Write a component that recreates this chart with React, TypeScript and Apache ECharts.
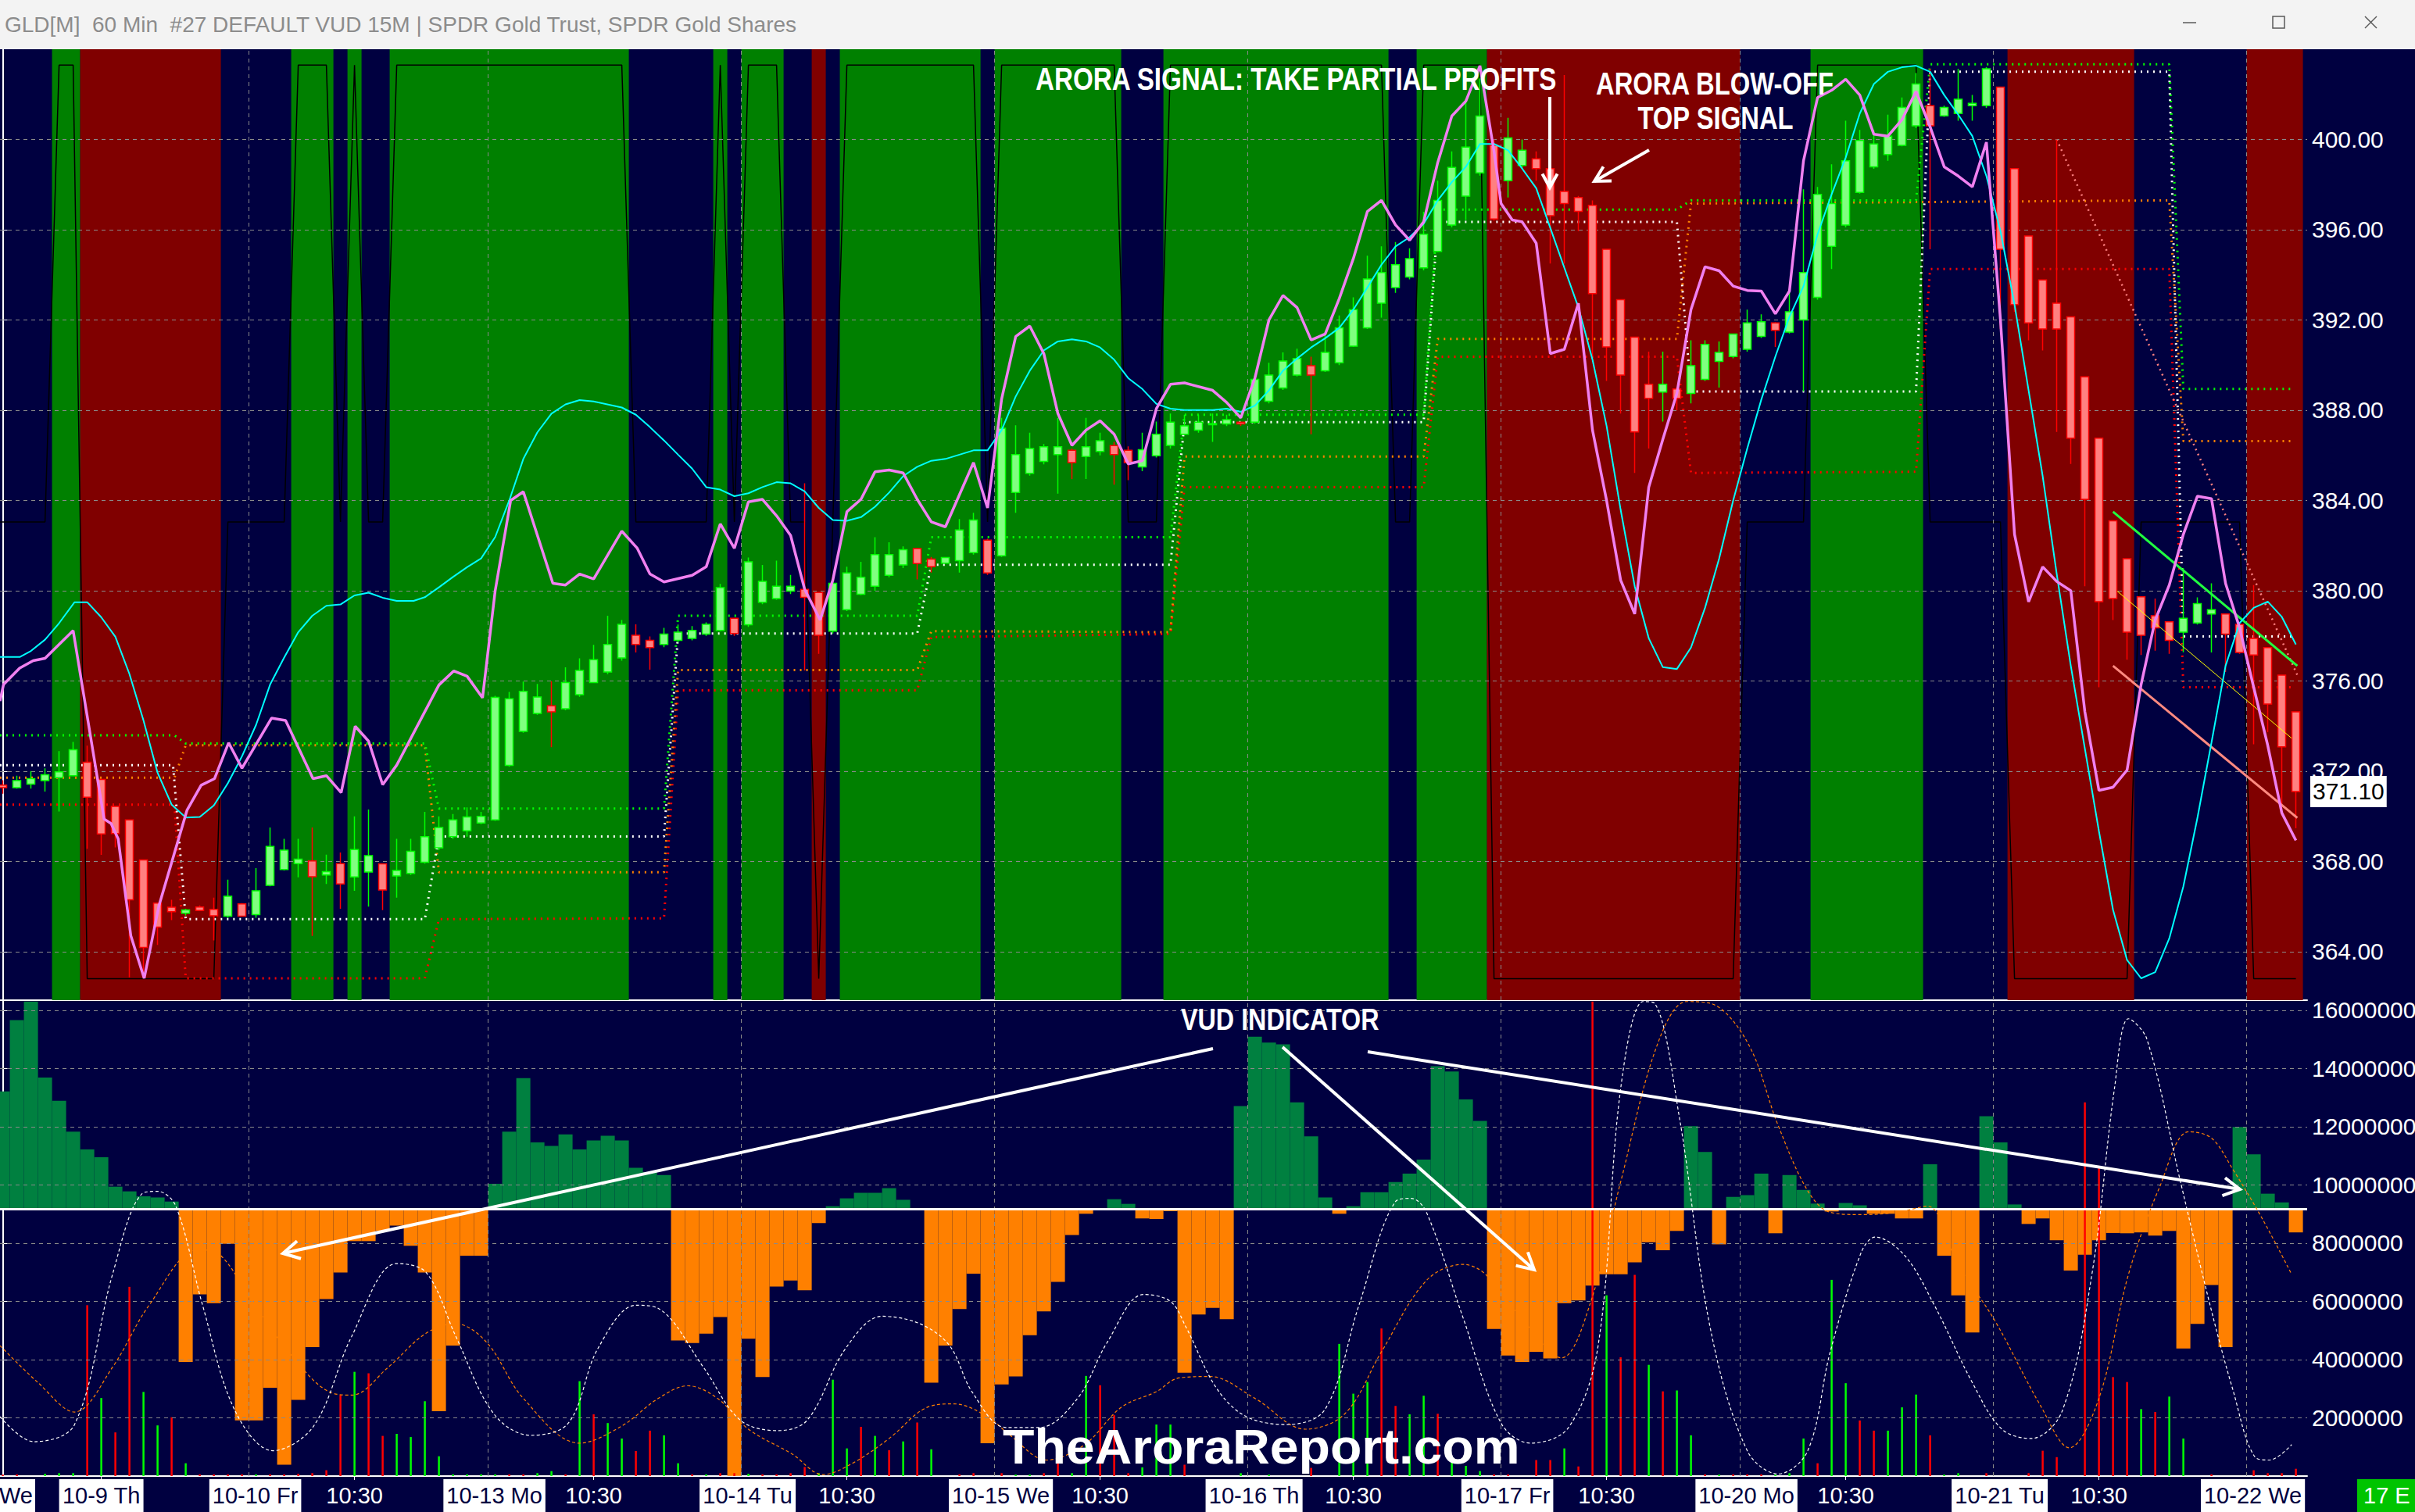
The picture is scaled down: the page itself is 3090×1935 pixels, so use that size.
import React, { useEffect, useRef } from 'react';
import * as echarts from 'echarts';

// ---------------- data ----------------
const titleText = 'GLD[M]  60 Min  #27 DEFAULT VUD 15M | SPDR Gold Trust, SPDR Gold Shares';
const priceTicks = [364, 368, 372, 376, 380, 384, 388, 392, 396, 400];
const vudTicks = [2, 4, 6, 8, 10, 12, 14, 16]; // millions
const dayBreaks = [17.5, 34.5, 52.5, 70.5, 88.5, 106.5, 123.5, 141.5, 159.5];
const firstDayLabel = 'We';
const dateLabels = ['10-9 Th', '10-10 Fr', '10-13 Mo', '10-14 Tu', '10-15 We', '10-16 Th', '10-17 Fr', '10-20 Mo', '10-21 Tu', '10-22 We'];
const dateLabelBars = [7, 17.5, 34.5, 52.5, 70.5, 88.5, 106.5, 123.5, 141.5, 159.5];
const timeLabel = '10:30';
const timeLabelBars = [25, 42, 60, 78, 96, 114, 131, 149];
const tickBars = [7, 25, 42, 60, 78, 96, 114, 131, 149];
const cornerLabel = '17 E';

// background regime bands: edges (bar units) and states n=navy g=green r=red
const bandEdges = [-0.2, 3.5, 5.5, 15.5, 20.5, 23.5, 24.5, 25.5, 27.5, 44.5, 50.5, 51.5, 52.5, 55.5, 57.5, 58.5, 59.5, 69.5, 70.5, 79.5, 82.5, 98.5, 100.5, 105.5, 123.5, 128.5, 136.5, 142.5, 151.5, 159.5, 163.5, 163.8];
const bandStates = ['n', 'g', 'r', 'n', 'g', 'n', 'g', 'n', 'g', 'n', 'g', 'n', 'g', 'n', 'r', 'n', 'g', 'n', 'g', 'n', 'g', 'n', 'g', 'r', 'n', 'g', 'n', 'r', 'n', 'r', 'n'];
const regimeLevel: Record<string, number> = { g: 403.3, n: 383.05, r: 362.8 };

// hourly candles: [open, close, low, high]
const ohlc: number[][] = [
  [371.38, 371.27, 371.0, 371.6], [371.27, 371.58, 371.23, 371.8], [371.43, 371.67, 371.23, 372.0], [371.58, 371.84, 371.1, 372.13], [371.71, 371.97, 370.21, 372.89],
  [371.8, 372.95, 371.78, 373.3], [372.4, 370.85, 368.56, 373.13], [371.63, 369.22, 368.29, 371.63], [370.44, 369.24, 368.62, 370.44], [369.84, 366.3, 362.86, 369.84],
  [368.07, 364.19, 363.0, 368.07], [366.15, 365.09, 364.3, 366.15], [365.97, 365.77, 365.4, 366.3], [365.7, 365.85, 365.6, 365.9], [365.98, 365.82, 365.8, 366.05],
  [365.88, 365.59, 364.5, 366.4], [365.57, 366.46, 365.5, 367.19], [366.12, 365.57, 365.55, 366.15], [365.64, 366.7, 365.5, 367.7], [366.94, 368.66, 366.9, 369.5],
  [367.64, 368.5, 367.6, 369.0], [367.9, 368.1, 367.3, 369.0], [368.02, 367.32, 364.7, 369.5], [367.4, 367.55, 367.0, 368.3], [367.9, 367.0, 365.9, 368.4],
  [367.31, 368.53, 366.7, 370.0], [367.53, 368.26, 366.0, 370.3], [367.89, 366.73, 365.84, 367.9], [367.36, 367.6, 366.4, 369.0], [367.47, 368.45, 367.4, 369.0],
  [367.96, 369.1, 367.9, 370.2], [368.6, 369.5, 368.5, 370.0], [369.1, 369.84, 369.0, 370.1], [369.36, 369.97, 369.1, 370.4], [369.7, 370.0, 369.65, 370.2],
  [369.84, 375.27, 369.8, 375.34], [372.26, 375.21, 372.2, 375.51], [373.76, 375.54, 373.7, 375.97], [374.56, 375.29, 374.5, 375.87], [374.9, 374.63, 373.06, 375.99],
  [374.77, 375.93, 374.7, 376.6], [375.39, 376.47, 375.3, 377.0], [375.93, 376.94, 375.9, 377.6], [376.4, 377.62, 376.3, 378.89], [377.02, 378.51, 376.9, 378.7],
  [378.02, 377.62, 377.26, 378.51], [377.8, 377.48, 376.5, 377.97], [377.62, 378.08, 377.5, 378.35], [377.8, 378.16, 377.7, 378.5], [377.89, 378.24, 377.8, 378.43],
  [378.08, 378.51, 378.0, 378.6], [378.24, 380.14, 378.2, 380.3], [378.78, 378.1, 378.0, 378.8], [378.49, 381.28, 378.4, 381.47], [379.49, 380.41, 379.4, 381.14],
  [379.65, 380.2, 379.6, 381.33], [379.98, 380.2, 379.85, 380.7], [380.06, 379.7, 376.47, 384.76], [379.92, 378.02, 377.2, 379.92], [378.21, 380.33, 378.1, 380.4],
  [379.16, 380.79, 379.1, 381.06], [379.84, 380.6, 379.8, 381.28], [380.2, 381.6, 380.0, 382.37], [380.68, 381.6, 380.6, 382.15], [381.14, 381.82, 381.0, 381.96],
  [381.87, 381.2, 380.5, 381.9], [381.4, 381.06, 380.8, 381.5], [381.22, 381.47, 381.2, 381.5], [381.33, 382.69, 380.8, 383.18], [381.69, 383.13, 381.6, 383.45],
  [382.24, 380.79, 380.7, 382.3], [381.55, 387.2, 381.5, 387.66], [384.35, 386.03, 383.45, 387.33], [385.2, 386.3, 385.1, 387.0], [385.73, 386.38, 385.6, 386.5],
  [386.03, 386.38, 384.3, 387.66], [386.22, 385.68, 384.95, 386.3], [385.95, 386.38, 384.95, 387.66], [386.17, 386.65, 386.0, 387.0], [386.43, 386.03, 384.7, 386.6],
  [386.22, 385.68, 384.9, 386.4], [385.49, 386.25, 385.3, 387.0], [385.98, 386.93, 385.9, 387.5], [386.44, 387.47, 386.3, 387.85], [386.93, 387.31, 386.9, 387.8],
  [387.12, 387.47, 387.0, 387.8], [387.36, 387.4, 386.6, 387.85], [387.39, 387.58, 387.3, 387.8], [387.47, 387.39, 387.3, 387.5], [387.47, 389.37, 387.4, 389.42],
  [388.4, 389.56, 388.3, 390.1], [388.99, 390.18, 388.9, 390.56], [389.56, 390.29, 389.5, 390.73], [389.97, 389.56, 386.93, 390.37], [389.75, 390.56, 389.7, 391.33],
  [390.1, 391.65, 390.0, 392.2], [390.84, 392.46, 390.8, 393.0], [391.65, 393.82, 391.6, 394.85], [392.74, 394.1, 392.1, 395.26], [393.44, 394.45, 393.2, 395.45],
  [393.9, 394.72, 393.8, 395.18], [394.31, 395.8, 394.2, 396.8], [395.04, 397.3, 395.0, 398.17], [396.21, 398.76, 396.1, 399.47], [397.49, 399.66, 396.43, 401.78],
  [398.52, 401.04, 398.4, 402.7], [399.74, 396.48, 396.4, 400.0], [398.17, 400.07, 397.43, 400.96], [398.85, 399.52, 398.7, 400.0], [399.14, 398.71, 398.17, 399.47],
  [398.71, 396.62, 394.5, 398.8], [397.7, 397.16, 394.5, 402.86], [397.43, 396.81, 395.94, 397.5], [397.08, 393.17, 390.3, 397.3], [395.13, 390.8, 389.3, 395.13],
  [392.9, 389.56, 387.85, 392.9], [391.24, 387.04, 385.22, 391.24], [389.15, 388.53, 386.3, 390.6], [388.8, 389.15, 387.5, 390.6], [388.94, 388.53, 388.0, 389.0],
  [388.74, 389.97, 388.3, 391.1], [389.37, 390.92, 389.3, 391.1], [390.16, 390.56, 389.0, 391.05], [390.38, 391.38, 390.3, 391.4], [390.7, 391.87, 390.6, 392.46],
  [391.27, 391.92, 391.2, 392.25], [391.87, 391.54, 390.8, 391.9], [391.46, 392.36, 391.4, 393.36], [392.0, 394.1, 388.83, 397.79], [393.0, 397.57, 392.9, 397.9],
  [395.26, 397.16, 394.26, 398.9], [396.21, 399.06, 396.1, 400.83], [397.65, 399.96, 397.6, 400.42], [398.79, 399.8, 398.7, 400.42], [399.33, 400.15, 399.06, 401.1],
  [399.74, 401.42, 399.7, 401.86], [400.61, 402.46, 400.5, 402.94], [401.5, 400.61, 395.13, 403.13], [401.05, 401.42, 401.0, 401.5], [401.15, 401.78, 400.83, 403.13],
  [401.5, 401.6, 400.83, 401.97], [401.5, 403.13, 401.4, 403.2], [402.32, 395.13, 391.6, 402.32], [398.71, 392.68, 392.36, 398.71], [395.72, 391.87, 391.1, 395.72],
  [393.77, 391.6, 390.65, 393.77], [392.74, 391.6, 387.04, 400.0], [392.14, 386.76, 385.62, 392.14], [389.48, 384.05, 380.2, 389.48], [386.76, 379.51, 375.72, 386.76],
  [383.1, 379.65, 378.7, 383.1], [381.42, 378.16, 376.94, 381.42], [379.73, 378.02, 377.15, 379.73], [378.89, 378.35, 377.34, 379.65], [378.62, 377.8, 377.2, 378.62],
  [378.16, 378.78, 377.27, 381.0], [378.57, 379.43, 378.5, 379.7], [378.97, 379.16, 377.26, 380.33], [378.97, 378.08, 376.4, 378.97], [378.51, 377.26, 377.2, 378.6],
  [377.89, 377.15, 373.19, 380.25], [377.48, 374.98, 373.73, 377.5], [376.26, 373.08, 370.42, 376.26], [374.63, 371.1, 369.47, 374.63],
];

// oscillator lines on price panel: [bar, price]
const pinkLine = [
  [-0.2, 375.11], [0.05, 375.84], [1.2, 376.57], [2.16, 376.9], [3, 377.0], [5, 378.23], [7.2, 369.88], [7.7, 369.68], [8.2, 369.0], [9.1, 364.71], [10.05, 362.82],
  [11.1, 366.04], [13.1, 370.28], [14.1, 371.38], [15.05, 371.67], [16.05, 373.26], [17, 372.13], [19.1, 374.35], [20.1, 374.25], [22.05, 371.67], [23, 371.8],
  [24.05, 371.05], [25.05, 373.99], [26, 373.33], [27, 371.4], [28, 372.27], [29.9, 374.52], [31, 375.82], [32.05, 376.44], [33, 376.21], [34.1, 375.25],
  [35, 380.0], [36.1, 384.0], [37, 384.39], [39.1, 380.33], [40, 380.25], [41, 380.74], [42, 380.52], [44, 382.64], [45.1, 381.88], [46, 380.74], [47, 380.39],
  [49, 380.68], [50, 381.06], [51, 382.96], [52, 381.88], [53, 383.94], [54, 384.05], [55, 383.32], [56, 382.45], [57, 380.06], [58.1, 378.7], [59, 380.47],
  [60, 383.5], [61, 384.05], [62, 385.27], [63, 385.35], [64, 385.22], [65, 384.05], [66, 383.05], [67, 382.83], [69, 385.68], [70, 383.67], [71, 388.5],
  [72, 391.27], [73, 391.73], [74, 390.51], [75, 387.85], [76, 386.44], [77, 387.12], [78, 387.53], [79, 386.93], [80, 385.62], [81, 385.76], [82, 388.07],
  [83, 389.15], [84, 389.21], [86, 388.88], [87, 388.34], [88, 387.66], [89, 389.42], [90, 392.0], [91, 393.09], [92, 392.55], [93, 391.11], [94, 391.38],
  [95, 392.95], [96, 394.72], [97, 396.81], [98, 397.3], [99, 396.21], [100, 395.53], [101, 396.35], [102, 398.98], [103, 401.04], [104, 401.7], [105, 403.27],
  [106, 399.47], [106.5, 397.16], [107.3, 396.43], [108, 396.35], [109, 395.4], [110, 390.51], [111, 390.7], [112, 392.74], [113, 387.12], [114, 384.0],
  [115, 380.47], [116, 378.97], [117, 384.59], [118, 386.71], [119, 388.75], [120, 392.46], [121, 394.36], [122, 394.18], [123, 393.5], [124, 393.31],
  [125, 393.28], [126, 392.27], [127, 393.28], [128, 399.06], [129, 401.86], [130, 402.18], [131, 402.67], [132, 401.97], [133, 400.23], [134, 400.15],
  [135, 400.88], [136, 402.13], [137, 400.56], [138, 398.79], [139, 398.38], [140, 397.9], [141, 399.88], [142, 392.0], [143, 382.5], [144, 379.51],
  [145, 381.06], [146, 380.41], [147, 380.0], [148, 374.63], [149, 371.15], [150, 371.29], [151, 372.05], [152, 375.85], [153, 378.7], [154, 380.25],
  [155, 382.5], [156, 384.19], [157, 384.08], [158, 380.33], [159, 378.35], [160, 375.72], [161, 373.14], [162, 370.15], [163, 368.93],
];
const cyanLine = [
  [-0.2, 377.06], [1.2, 377.06], [2, 377.33], [3, 377.83], [4, 378.56], [5.1, 379.49], [6, 379.49], [7, 378.82], [8, 377.96], [9, 376.31], [10, 374.25],
  [11, 371.93], [12, 370.52], [13, 369.95], [14, 369.97], [15, 370.48], [16, 371.47], [17, 372.66], [18, 374.05], [19, 375.84], [20, 377.04], [21, 378.16],
  [22, 378.89], [23, 379.33], [24, 379.39], [25, 379.79], [26, 379.91], [27, 379.69], [28, 379.55], [29.2, 379.55], [30, 379.71], [31, 380.15], [32, 380.61],
  [33, 381.04], [34, 381.43], [35, 382.38], [36, 384.0], [37, 385.84], [38, 387.02], [39, 387.85], [40, 388.26], [41, 388.45], [42, 388.39], [44, 388.12],
  [45, 387.8], [46, 387.25], [47, 386.66], [48, 386.03], [49, 385.41], [50, 384.59], [51, 384.48], [52, 384.19], [53, 384.32], [54, 384.59], [55, 384.81],
  [56, 384.76], [57, 384.4], [58, 383.67], [59, 383.13], [60, 383.1], [61, 383.26], [62, 383.72], [63, 384.35], [64, 385.08], [65, 385.49], [66, 385.76],
  [67, 385.84], [68, 386.03], [69, 386.22], [70, 386.22], [71, 387.12], [72, 388.61], [73, 389.75], [74, 390.65], [75, 391.05], [76, 391.14], [77, 391.05],
  [78, 390.78], [79, 390.24], [80, 389.42], [81, 388.94], [82, 388.28], [83, 388.07], [84, 388.01], [86, 388.01], [87, 388.07], [88, 387.93], [89, 388.2],
  [90, 388.88], [91, 389.75], [92, 390.29], [93, 390.78], [94, 391.19], [95, 391.65], [96, 392.46], [97, 393.44], [98, 394.45], [99, 395.26], [100, 395.67],
  [101, 396.27], [102, 397.3], [103, 398.11], [104, 398.79], [105, 399.8], [106, 399.8], [107, 399.52], [108, 398.71], [109, 397.84], [110, 396.08],
  [111, 394.31], [112, 392.55], [113, 390.24], [114, 387.31], [115, 383.59], [116, 380.2], [117, 377.89], [118, 376.61], [119, 376.53], [120, 377.48],
  [121, 379.24], [122, 381.42], [123, 384.0], [124, 386.3], [125, 388.47], [126, 390.38], [127, 392.14], [128, 393.5], [129, 395.8], [130, 397.57],
  [131, 399.2], [132, 401.15], [133, 402.46], [134, 403.0], [135, 403.2], [136, 403.27], [137, 403.0], [138, 401.97], [139, 401.1], [140, 400.15],
  [141, 398.38], [142, 395.94], [143, 392.68], [144, 388.88], [145, 385.08], [146, 380.74], [147, 376.67], [148, 373.0], [149, 369.34], [150, 365.86],
  [151, 363.63], [152, 362.82], [153, 363.09], [154, 364.59], [155, 366.89], [156, 369.93], [157, 373.27], [158, 376.67], [159, 378.57], [160, 379.24],
  [161, 379.52], [162, 378.84], [163, 377.62],
];

// dotted support / resistance steps: [bar, price]
const levelGreen = [[-0.2, 373.59], [12.2, 373.59], [13, 373.23], [30, 373.23], [31, 370.34], [47, 370.34], [48, 378.89], [65, 378.89], [66, 382.37], [83, 382.37], [84, 387.8], [101, 387.8], [102, 396.89], [119, 396.89], [120, 397.3], [136, 397.3], [137, 403.33], [154, 403.33], [155, 388.94], [162.7, 388.94]];
const levelWhite = [[-0.2, 372.27], [12.1, 372.27], [13, 365.44], [30, 365.44], [31, 369.11], [47, 369.11], [48, 378.1], [65, 378.1], [66, 381.15], [83, 381.15], [84, 387.47], [101, 387.47], [102, 396.35], [119, 396.35], [120, 388.83], [136, 388.83], [137, 403.0], [154, 403.0], [155, 377.97], [162.7, 377.97]];
const levelOrange = [[-0.2, 371.71], [12.2, 371.71], [13, 373.15], [30, 373.15], [31, 367.52], [47, 367.52], [48, 376.48], [65, 376.48], [66, 378.21], [83, 378.16], [84, 385.95], [101, 385.95], [102, 391.16], [119, 391.16], [120, 397.16], [154, 397.3], [155, 386.63], [162.7, 386.63]];
const levelRed = [[-0.2, 370.52], [12.2, 370.52], [13, 362.82], [30, 362.82], [31, 365.44], [47, 365.48], [48, 375.58], [65, 375.58], [66, 377.94], [83, 378.08], [84, 384.59], [101, 384.59], [102, 390.37], [119, 390.37], [120, 385.22], [136, 385.27], [137, 394.26], [154, 394.26], [155, 375.72], [162.7, 375.72]];

// drawn trend lines
const trendGreen = [[150, 383.5], [163.1, 376.67]];
const trendSalmon = [[150, 376.67], [163.1, 369.93]];
const trendYellow = [[150.3, 379.98], [162.7, 373.46]];
const trendDotted = [[146, 400.0], [163.1, 376.26]];

// VUD histogram (millions), drawn from the baseline
const vudBase = 9.17;
const vud = [
  13.21, 15.66, 16.3, 13.69, 12.89, 11.83, 11.22, 10.95, 9.94, 9.78,
  9.61, 9.57, 9.43, 3.92, 6.24, 5.94, 7.98, 1.91, 1.91, 3.03,
  0.39, 2.62, 4.43, 6.08, 6.99, 8.07, 8.07, 8.42, 8.6, 7.91,
  6.99, 2.23, 4.48, 7.57, 7.57, 10.04, 11.83, 13.67, 11.46, 11.34,
  11.74, 11.22, 11.53, 11.69, 11.53, 10.59, 10.44, 10.34, 4.66, 4.57,
  4.89, 5.46, 0.01, 4.72, 3.4, 6.51, 6.72, 6.38, 8.69, 9.27,
  9.54, 9.73, 9.73, 9.89, 9.49, 9.17, 3.21, 4.48, 5.74, 6.95,
  1.13, 3.15, 3.42, 4.84, 5.66, 6.67, 8.28, 9.01, 9.17, 9.51,
  9.35, 8.85, 8.83, 9.1, 3.55, 5.55, 5.78, 5.39, 12.71, 15.09,
  14.89, 14.83, 12.84, 11.67, 9.57, 9.01, 9.27, 9.75, 9.75, 10.1,
  10.39, 10.87, 14.08, 13.9, 12.94, 12.2, 5.05, 4.14, 3.92, 4.27,
  4.04, 5.94, 6.03, 6.54, 6.93, 6.93, 7.34, 8.03, 7.76, 8.42,
  12.02, 11.13, 7.96, 9.59, 9.65, 10.39, 8.34, 10.34, 9.83, 9.36,
  9.09, 9.38, 9.3, 9.01, 9.01, 8.85, 8.85, 10.71, 7.57, 6.21,
  4.93, 12.36, 11.46, 9.33, 8.66, 8.85, 8.1, 7.06, 7.6, 8.1,
  8.35, 8.34, 8.37, 8.26, 8.42, 4.38, 5.23, 6.56, 4.43, 11.99,
  11.05, 9.7, 9.4, 8.37,
];

// volume spikes (millions): [bar, value]
const volUp = [[3, 0.08], [4, 0.1], [5, 0.1], [7, 2.68], [10, 2.89], [11, 1.74], [13, 0.44], [18, 0.06], [25, 3.58], [28, 1.45], [29, 1.34], [30, 2.57], [31, 0.68], [32, 0.06], [33, 0.06], [34, 0.06], [35, 0.06], [38, 0.1], [39, 0.17], [41, 3.26], [43, 1.82], [44, 1.29], [47, 1.4], [48, 0.44], [50, 0.06], [53, 0.08], [58, 0.1], [59, 3.31], [60, 0.95], [62, 1.38], [64, 1.19], [66, 0.92], [72, 0.05], [73, 0.05], [76, 0.1], [77, 3.44], [81, 0.3], [82, 1.77], [83, 1.77], [88, 0.1], [90, 0.05], [95, 4.54], [96, 2.83], [97, 3.23], [100, 2.12], [101, 2.76], [103, 0.6], [104, 0.35], [105, 0.17], [111, 0.95], [114, 6.21], [117, 3.82], [119, 2.94], [120, 1.4], [122, 0.05], [126, 0.05], [127, 0.1], [128, 1.29], [130, 6.74], [131, 3.19], [134, 1.56], [135, 2.36], [136, 2.8], [138, 0.05], [139, 0.1], [152, 2.3], [154, 2.73], [155, 1.29]];
const volDown = [[0, 0.05], [1, 0.06], [6, 5.87], [8, 1.5], [9, 6.5], [12, 2.02], [14, 0.06], [15, 0.06], [16, 0.06], [17, 0.06], [19, 0.06], [20, 0.06], [21, 0.08], [22, 0.1], [23, 0.2], [24, 2.78], [26, 3.53], [27, 1.38], [36, 0.06], [37, 0.06], [40, 0.06], [42, 2.12], [45, 0.86], [46, 1.56], [49, 0.06], [51, 0.1], [52, 0.1], [54, 0.06], [55, 0.06], [56, 0.1], [57, 0.31], [61, 1.69], [63, 0.89], [65, 1.84], [68, 0.06], [69, 0.1], [71, 0.1], [74, 0.1], [75, 0.89], [78, 3.12], [79, 2.09], [80, 0.1], [84, 0.39], [93, 0.28], [98, 5.07], [99, 2.41], [102, 2.14], [106, 0.06], [107, 0.06], [109, 0.55], [110, 0.55], [112, 0.33], [113, 16.3], [115, 4.08], [116, 6.91], [118, 2.91], [121, 0.06], [123, 0.06], [124, 0.06], [125, 0.06], [129, 0.44], [132, 1.91], [133, 1.56], [137, 1.4], [141, 0.1], [144, 0.1], [145, 0.87], [146, 0.65], [148, 12.84], [149, 10.6], [150, 3.4], [151, 3.23], [153, 2.2], [157, 0.06], [160, 0.2], [161, 0.1], [162, 0.1], [163, 0.25]];

// oscillators on VUD panel (millions): [bar, value]
const whiteOsc = [[-0.2, 2.04], [2.2, 1.18], [5.1, 1.77], [7.8, 6.93], [9.9, 9.7], [11, 9.78], [12.3, 9.27], [14.2, 5.87], [16.5, 2.25], [19.2, 0.87], [22.1, 1.72], [24.8, 4.8], [28, 7.3], [30.1, 6.99], [32.2, 4.8], [34.9, 2.14], [37.5, 1.4], [40.2, 1.82], [42.3, 4.38], [45, 5.87], [46.6, 5.76], [49.8, 3.74], [52.4, 1.93], [55.1, 1.56], [57.2, 1.93], [59.9, 4.38], [62.5, 5.49], [65.2, 5.23], [67.3, 4.48], [68.9, 2.89], [71.3, 1.67], [73.7, 1.67], [76.4, 2.67], [78.5, 4.59], [81.1, 6.24], [83, 6.0], [84.1, 5.12], [86.3, 3.0], [88.4, 2.04], [91.3, 1.77], [94, 2.3], [96.4, 5.87], [99, 9.43], [100.1, 9.54], [101.2, 9.06], [103.8, 5.44], [106.5, 1.82], [108.6, 1.13], [111.3, 1.67], [113.4, 4.48], [115, 13.3], [116.6, 16.3], [117.4, 16.25], [119.2, 12.25], [121.4, 5.02], [124, 0.87], [126.2, 0.07], [128.3, 0.87], [129.9, 4.27], [132.1, 7.68], [133.1, 8.21], [135.2, 7.57], [137.3, 5.87], [140, 3.21], [142.1, 1.61], [144.2, 1.29], [146.4, 2.25], [148.5, 6.93], [150.1, 13.3], [151.1, 15.71], [152.4, 15.02], [154.8, 10.1], [156.9, 5.87], [158.5, 3.0], [160.1, 0.65], [161.1, 0.55], [162.7, 1.08]];
const orangeOsc = [[-0.2, 4.48], [2.5, 3.21], [5.1, 2.2], [7.8, 3.74], [10.4, 5.87], [13.9, 7.78], [15.5, 7.57], [17.9, 5.87], [20.5, 4.16], [23.2, 2.89], [24.8, 2.78], [27.4, 3.74], [30.1, 4.91], [32.2, 5.23], [34.4, 4.59], [37, 2.67], [41, 1.13], [44, 1.72], [46.6, 2.67], [48.7, 3.1], [50.8, 2.67], [53, 1.61], [56.1, 0.76], [58.3, 0.05], [60.4, 0.44], [63, 1.29], [65.7, 2.36], [67.6, 2.48], [70, 2.04], [71.6, 1.4], [74.2, 0.55], [76.9, 1.08], [79.5, 2.36], [82, 2.9], [83.6, 3.37], [85.8, 3.42], [89, 2.67], [92.6, 1.61], [95.4, 2.14], [98, 4.27], [101.2, 6.72], [103.8, 7.27], [105.4, 6.93], [108.1, 5.33], [110.8, 4.06], [112.8, 5.87], [115, 10.1], [117.6, 14.81], [119.7, 16.3], [121.3, 16.25], [124, 14.91], [126.2, 12.04], [128.3, 9.8], [129.9, 9.06], [132.1, 8.98], [134.7, 9.06], [136.8, 9.27], [139, 7.25], [141.6, 5.34], [144.8, 2.46], [146.9, 0.97], [149, 2.67], [151.1, 6.93], [153.3, 9.91], [155.4, 11.83], [157, 11.61], [158.5, 10.55], [160.6, 8.85], [162.7, 6.93]];

// annotations
const noteProfit = 'ARORA SIGNAL: TAKE PARTIAL PROFITS';
const noteBlowOff1 = 'ARORA BLOW-OFF';
const noteBlowOff2 = 'TOP SIGNAL';
const noteVud = 'VUD INDICATOR';
const watermark = 'TheAroraReport.com';

// ---------------- styling ----------------
const NAVY = '#000040';
const GREEN_BG = '#008000';
const RED_BG = '#800000';
const FONT = '"Liberation Sans", Arial, Helvetica, sans-serif';
const GRID_LINE = { color: '#8a8a8a', type: [5, 5] as any, width: 1 };

function buildOption() {
  const segs = bandStates.map((s, k) => [bandEdges[k], bandEdges[k + 1], s] as [number, number, string]);
  const bandData = segs
    .filter((s) => s[2] !== 'n')
    .map(([a, b, s]) => [
      { xAxis: a, itemStyle: { color: s === 'g' ? GREEN_BG : RED_BG, opacity: 1 } },
      { xAxis: b },
    ]);
  const blackLine: number[][] = [];
  segs.forEach(([a, b, s], k) => {
    const x1 = k === 0 ? a : a + 0.5;
    const x2 = k === segs.length - 1 ? b : b - 0.5;
    if (x1 > x2) return;
    blackLine.push([x1, regimeLevel[s]]);
    if (x2 > x1) blackLine.push([x2, regimeLevel[s]]);
  });

  const hidden = { symbol: 'none', lineStyle: { opacity: 0 }, silent: true } as any;
  const lineS = (data: number[][], color: string, width: number, z: number, type: any = 'solid', grid = 0, smooth: any = false) => ({
    type: 'line', xAxisIndex: grid, yAxisIndex: grid, data, symbol: 'none', showSymbol: false, silent: true, z, smooth,
    lineStyle: { color, width, type },
  });
  const volRender = (color: string) => (params: any, api: any) => {
    const x = api.value(0), v = api.value(1);
    const p0 = api.coord([x, 0]);
    const p1 = api.coord([x, v]);
    return { type: 'rect', shape: { x: p0[0] - 1.25, y: p1[1], width: 2.5, height: p0[1] - p1[1] }, style: { fill: color } };
  };

  return {
    animation: false,
    backgroundColor: NAVY,
    tooltip: { show: false },
    grid: [
      { left: 0, top: 63, width: 2952, height: 1217, containLabel: false, outerBoundsMode: 'none' },
      { left: 0, top: 1281, width: 2952, height: 608, containLabel: false, outerBoundsMode: 'none' },
    ],
    xAxis: [
      { type: 'value', gridIndex: 0, min: -0.2, max: 163.8, axisLine: { show: true, onZero: false, lineStyle: { color: '#ffffff', width: 2 } }, axisTick: { show: false }, axisLabel: { show: false }, splitLine: { show: false } },
      { type: 'value', gridIndex: 1, min: -0.2, max: 163.8, axisLine: { show: true, onZero: false, lineStyle: { color: '#ffffff', width: 2 } }, axisTick: { show: true, customValues: tickBars, length: 5, lineStyle: { color: '#ffffff', width: 1 } }, axisLabel: { show: false }, splitLine: { show: false } },
    ],
    yAxis: [
      {
        type: 'value', gridIndex: 0, position: 'right', min: 361.85, max: 404, scale: true,
        axisLine: { show: true, lineStyle: { color: '#ffffff', width: 2 } },
        axisTick: { show: true, customValues: priceTicks, length: 6, lineStyle: { color: '#ffffff' } },
        axisLabel: { show: true, customValues: priceTicks, formatter: (v: number) => v.toFixed(2), color: '#ffffff', fontSize: 30, fontFamily: FONT, margin: 6 },
        splitLine: { show: false },
      },
      {
        type: 'value', gridIndex: 1, position: 'right', min: 0, max: 16.32,
        axisLine: { show: true, lineStyle: { color: '#ffffff', width: 2 } },
        axisTick: { show: true, customValues: vudTicks, length: 6, lineStyle: { color: '#ffffff' } },
        axisLabel: { show: true, customValues: vudTicks, formatter: (v: number) => String(Math.round(v * 1000000)), color: '#ffffff', fontSize: 30, fontFamily: FONT, margin: 6 },
        splitLine: { show: false },
      },
    ],
    series: [
      // regime background bands
      { type: 'line', xAxisIndex: 0, yAxisIndex: 0, data: [[-0.2, 383]], z: 1, ...hidden, markArea: { silent: true, data: bandData } },
      // price grid
      {
        type: 'line', xAxisIndex: 0, yAxisIndex: 0, data: [[-0.2, 383]], z: 2, ...hidden,
        markLine: { silent: true, symbol: ['none', 'none'], label: { show: false }, lineStyle: GRID_LINE, data: [...priceTicks.map((v) => ({ yAxis: v })), ...dayBreaks.map((b) => ({ xAxis: b }))] },
      },
      lineS(blackLine, '#000000', 1.5, 3),
      lineS(levelRed, '#ff0000', 3, 3, [2, 6]),
      lineS(levelOrange, '#ff8000', 3, 3, [2, 6]),
      lineS(levelWhite, '#ffffff', 3, 3, [2, 6]),
      lineS(levelGreen, '#00ff00', 3, 3, [2, 6]),
      lineS(trendDotted, '#ff8080', 2.5, 3, [2, 5]),
      {
        type: 'candlestick', xAxisIndex: 0, yAxisIndex: 0, z: 5, barWidth: 11, silent: true,
        encode: { x: 0, y: [1, 2, 3, 4] },
        data: ohlc.map((c, i) => [i, c[0], c[1], c[2], c[3]]),
        itemStyle: { color: '#80ff80', color0: '#ff8080', borderColor: '#00ff00', borderColor0: '#ff0000', borderWidth: 1.5 },
      },
      lineS(trendYellow, '#ffff00', 1, 6),
      lineS(trendSalmon, '#ff8a80', 3, 6),
      lineS(trendGreen, '#20ff40', 3, 6),
      lineS(cyanLine, '#00ffff', 2, 6),
      lineS(pinkLine, '#f080f0', 3.5, 7),
      // VUD panel grid
      {
        type: 'line', xAxisIndex: 1, yAxisIndex: 1, data: [[-0.2, 1]], z: 1, ...hidden,
        markLine: { silent: true, symbol: ['none', 'none'], label: { show: false }, lineStyle: GRID_LINE, data: [...vudTicks.map((v) => ({ yAxis: v })), ...dayBreaks.map((b) => ({ xAxis: b }))] },
      },
      {
        type: 'custom', xAxisIndex: 1, yAxisIndex: 1, z: 3, silent: true,
        data: vud.map((v, i) => [i, v]),
        renderItem: (params: any, api: any) => {
          const i = api.value(0), v = api.value(1);
          const a = api.coord([i - 0.5, vudBase]);
          const b = api.coord([i + 0.5, v]);
          return { type: 'rect', shape: { x: a[0], y: Math.min(a[1], b[1]), width: b[0] - a[0], height: Math.abs(b[1] - a[1]) }, style: { fill: v >= vudBase ? '#008040' : '#ff8000' } };
        },
      },
      { type: 'custom', xAxisIndex: 1, yAxisIndex: 1, z: 4, silent: true, data: volUp, renderItem: volRender('#00ff00') },
      { type: 'custom', xAxisIndex: 1, yAxisIndex: 1, z: 4, silent: true, data: volDown, renderItem: volRender('#ff0000') },
      lineS(orangeOsc, '#ff8000', 1.2, 5, [4, 3], 1, 0.35),
      lineS(whiteOsc, '#ffffff', 1.2, 5, [4, 3], 1, 0.35),
      {
        type: 'line', xAxisIndex: 1, yAxisIndex: 1, data: [[-0.2, 1]], z: 6, ...hidden,
        markLine: { silent: true, symbol: ['none', 'none'], label: { show: false }, lineStyle: { color: '#ffffff', width: 3, type: 'solid' }, data: [{ yAxis: vudBase }] },
      },
    ],
  };
}

function txt(x: number, y: number, text: string, o: any = {}) {
  const align = o.align || 'left';
  const valign = o.valign || 'middle';
  return {
    type: 'text', x, y, z: 100, silent: true,
    scaleX: o.scaleX || 1, scaleY: o.scaleY || 1,
    style: {
      text, fill: o.fill || '#ffffff', font: o.font,
      align, textAlign: align, verticalAlign: valign, textVerticalAlign: valign,
      backgroundColor: o.bg, padding: o.padding, lineHeight: o.lineHeight,
    },
  };
}

function arrow(x1: number, y1: number, x2: number, y2: number, w = 4, len = 22) {
  const ang = Math.atan2(y2 - y1, x2 - x1);
  const a1 = ang + Math.PI - 0.5;
  const a2 = ang + Math.PI + 0.5;
  return [
    { type: 'line', z: 100, silent: true, shape: { x1, y1, x2, y2 }, style: { stroke: '#ffffff', lineWidth: w } },
    {
      type: 'polyline', z: 100, silent: true,
      shape: { points: [[x2 + len * Math.cos(a1), y2 + len * Math.sin(a1)], [x2, y2], [x2 + len * Math.cos(a2), y2 + len * Math.sin(a2)]] },
      style: { stroke: '#ffffff', lineWidth: w, fill: null },
    },
  ];
}

function buildGraphic(chart: any) {
  const px = (bar: number) => chart.convertToPixel({ xAxisIndex: 1 }, bar);
  const lastClose = ohlc[ohlc.length - 1][1];
  const yClose = chart.convertToPixel({ yAxisIndex: 0 }, lastClose);
  const labelFont = `29px ${FONT}`;
  const els: any[] = [];
  // title bar
  els.push({ type: 'rect', z: 99, silent: true, shape: { x: 0, y: 0, width: 3090, height: 63 }, style: { fill: '#f3f3f3' } });
  els.push(txt(6, 31, titleText, { fill: '#8c8c8c', font: `28px ${FONT}` }));
  els.push({ type: 'line', z: 100, silent: true, shape: { x1: 2793, y1: 29, x2: 2810, y2: 29 }, style: { stroke: '#5a5a5a', lineWidth: 1.5 } });
  els.push({ type: 'rect', z: 100, silent: true, shape: { x: 2908, y: 21, width: 15, height: 15 }, style: { stroke: '#5a5a5a', lineWidth: 1.5, fill: null } });
  els.push({ type: 'line', z: 100, silent: true, shape: { x1: 3026, y1: 21, x2: 3041, y2: 36 }, style: { stroke: '#5a5a5a', lineWidth: 1.5 } });
  els.push({ type: 'line', z: 100, silent: true, shape: { x1: 3041, y1: 21, x2: 3026, y2: 36 }, style: { stroke: '#5a5a5a', lineWidth: 1.5 } });

  // bottom time labels
  els.push(txt(45, 1893, firstDayLabel, { align: 'right', valign: 'top', fill: NAVY, bg: '#ffffff', padding: [5, 3, 5, 3], lineHeight: 32, font: labelFont }));
  dateLabels.forEach((t, k) => {
    const x = px(dateLabelBars[k]) + (k === 0 ? 0 : 8);
    els.push(txt(x, 1893, t, { align: 'center', valign: 'top', fill: NAVY, bg: '#ffffff', padding: [5, 4, 5, 4], lineHeight: 32, font: labelFont }));
  });
  timeLabelBars.forEach((b) => {
    els.push(txt(px(b), 1893, timeLabel, { align: 'center', valign: 'top', fill: '#ffffff', padding: [5, 4, 5, 4], lineHeight: 32, font: labelFont }));
  });
  els.push(txt(3016, 1893, cornerLabel, { valign: 'top', fill: '#ffffff', bg: '#00c400', padding: [5, 10, 5, 8], lineHeight: 32, font: labelFont }));

  // last price tag
  els.push(txt(2956, yClose, lastClose.toFixed(2), { fill: '#000000', bg: '#ffffff', padding: [6, 3, 4, 3], font: `30px ${FONT}` }));

  // annotations
  const bold = (s: number) => `bold ${s}px ${FONT}`;
  els.push(txt(1325, 101, noteProfit, { font: bold(40), scaleX: 0.83 }));
  els.push(txt(2194, 107, noteBlowOff1, { font: bold(40), scaleX: 0.82, align: 'center' }));
  els.push(txt(2195, 151, noteBlowOff2, { font: bold(40), scaleX: 0.82, align: 'center' }));
  els.push(txt(1511, 1305, noteVud, { font: bold(38), scaleX: 0.85 }));
  els.push(txt(1283, 1852, watermark, { font: bold(63), scaleX: 1.05 }));
  els.push(...arrow(1983, 124, 1983, 240, 4, 20));
  els.push(...arrow(2110, 192, 2040, 232, 4, 22));
  els.push(...arrow(1552, 1342, 362, 1604, 4, 24));
  els.push(...arrow(1641, 1340, 1963, 1625, 4, 24));
  els.push(...arrow(1750, 1346, 2866, 1522, 4, 24));
  return els;
}

export default function App() {
  const ref = useRef<HTMLDivElement>(null);
  useEffect(() => {
    document.body.style.margin = '0';
    const chart = echarts.init(ref.current as HTMLDivElement, null, { renderer: 'svg', width: 3090, height: 1935 });
    chart.setOption(buildOption() as any);
    chart.setOption({ graphic: buildGraphic(chart) } as any);
    return () => chart.dispose();
  }, []);
  return <div ref={ref} style={{ position: 'fixed', left: 0, top: 0, width: 3090, height: 1935 }} />;
}
